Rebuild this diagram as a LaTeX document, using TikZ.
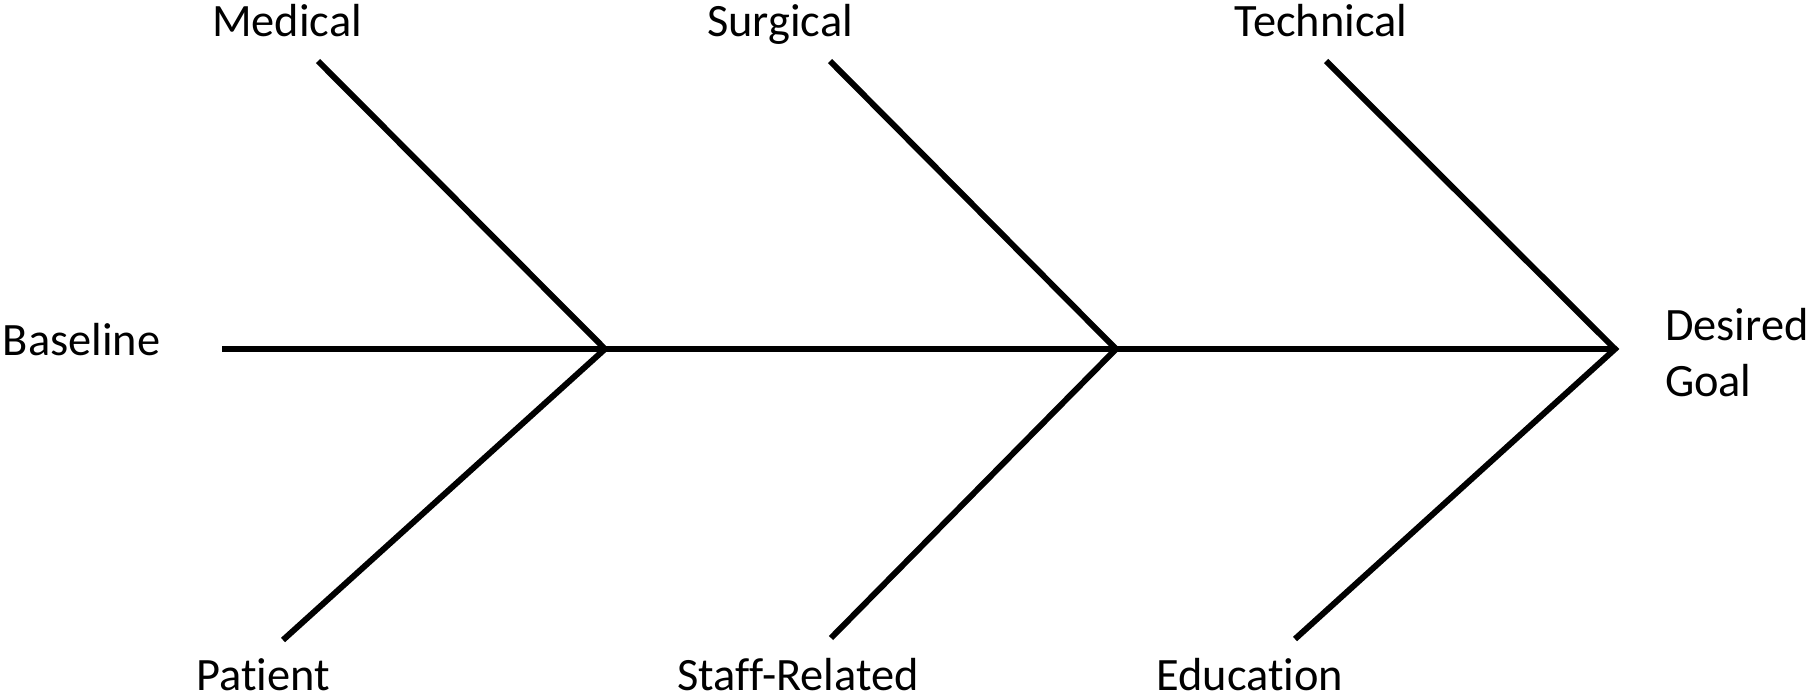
\documentclass[tikz,border=0pt]{standalone}
\usepackage{fontspec}
\setmainfont{Carlito}[Ligatures=NoCommon]
\begin{document}
\begin{tikzpicture}[line width=1.7pt, line join=miter,
  lbl/.style={inner sep=0pt, font=\fontsize{13.2}{15.9}\selectfont}]
  \useasboundingbox (0,0) rectangle (18.14,6.98);
  % 背骨の分岐点
  \coordinate (tail) at (2.22,3.49);
  \coordinate (j1) at (6.05,3.49);
  \coordinate (j2) at (11.16,3.49);
  \coordinate (head) at (16.15,3.49);
  % 骨の端
  \coordinate (medEnd) at (3.18,6.37);
  \coordinate (surEnd) at (8.30,6.37);
  \coordinate (tecEnd) at (13.26,6.37);
  \coordinate (patEnd) at (2.83,0.58);
  \coordinate (staEnd) at (8.31,0.60);
  \coordinate (eduEnd) at (12.95,0.59);
  % ラベル
  \node[lbl, anchor=base] (med) at (2.87,6.61) {Medical};
  \node[lbl, anchor=base] (sur) at (7.80,6.61) {Surgical};
  \node[lbl, anchor=base] (tec) at (13.21,6.61) {Technical};
  \node[lbl, anchor=base] (pat) at (2.63,0.08) {Patient};
  \node[lbl, anchor=base] (sta) at (7.98,0.08) {Staff-Related};
  \node[lbl, anchor=base] (edu) at (12.50,0.08) {Education};
  \node[lbl, anchor=base west] (base) at (0.0,3.43) {Baseline};
  \node[lbl, anchor=base west, align=left] (goal) at (16.62,3.02) {Desired\\Goal};
  % 背骨
  \draw (tail) -- (head);
  % 骨
  \draw (medEnd) -- (j1) -- (patEnd);
  \draw (surEnd) -- (j2) -- (staEnd);
  \draw (tecEnd) -- (head) -- (eduEnd);
\end{tikzpicture}
\end{document}
